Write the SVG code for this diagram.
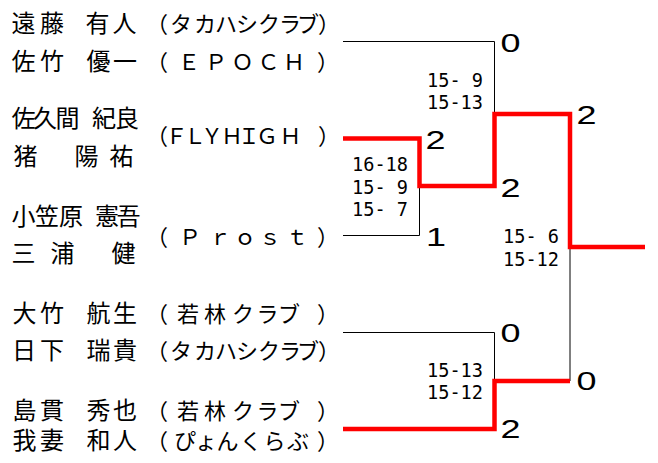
<svg xmlns="http://www.w3.org/2000/svg" width="658" height="463" viewBox="0 0 658 463">
<style>
.nm{font-family:"Noto Sans CJK JP","Noto Sans CJK SC",sans-serif;font-size:24px;fill:#000}
.cl{font-family:"Noto Sans CJK JP","Noto Sans CJK SC",sans-serif;font-size:22px;fill:#000}
.sc{font-family:"DejaVu Sans Mono",monospace;font-size:20px;fill:#000}
.wn{font-family:"Liberation Sans",Arial,sans-serif;font-size:25px;fill:#000}
.thin{fill:none;stroke:#000;stroke-width:1}
.win{fill:none;stroke:#ff0000;stroke-width:4.5;stroke-linejoin:miter;stroke-linecap:butt}
</style>
<rect width="658" height="463" fill="#fff"/>
<g id="team1">
<text class="nm" x="11.5 40 64 85.5 112.5" y="32">遠藤 有人</text>
<text class="cl" x="146 170 194 215 236 258 279 297 318" y="32">（タカハシクラブ）</text>
<text class="nm" x="11.5 40 64 86.5 113" y="70">佐竹 優一</text>
<text class="cl" x="146 178 205 231.5 257.5 283 317" y="70">（ＥＰＯＣＨ）</text>
</g>
<g id="team2">
<text class="nm" x="11.5 33 55.5 78 92 115" y="127">佐久間 紀良</text>
<text class="nm" x="13.5 40 74.5 109.5" y="165">猪　陽祐</text>
<text class="cl" x="146 165.5 184 201 221 238 256 279.5 318" y="144">（ＦＬＹＨＩＧＨ）</text>
</g>
<g id="team3">
<text class="nm" x="11.5 35 59 83 95 116.5" y="225">小笠原 憲吾</text>
<text class="nm" x="11.5 50.5 75 111.5" y="262">三浦　健</text>
<text class="cl" x="146 179 209 234 259 286 317" y="245">（Ｐｒｏｓｔ）</text>
</g>
<g id="team4">
<text class="nm" x="12.5 40 64 86.5 113" y="322">大竹 航生</text>
<text class="cl" x="146 177 204 232 256.5 278 317" y="322">（若林クラブ）</text>
<text class="nm" x="12 40 64 86.5 113" y="359">日下 瑞貴</text>
<text class="cl" x="146 170 194 215 236 258 279 297 318" y="359">（タカハシクラブ）</text>
</g>
<g id="team5">
<text class="nm" x="12.5 40 64 86.5 113" y="419">島貫 秀也</text>
<text class="cl" x="146 177 204 232 256.5 278 317" y="419">（若林クラブ）</text>
<text class="nm" x="12.5 40 64 86.5 113" y="449">我妻 和人</text>
<text class="cl" x="146 174 195 216.5 240 263.5 287 317" y="449">（ぴょんくらぶ）</text>
</g>
<g id="connectors">
<path class="thin" d="M343,41.5 H494.5 V114"/>
<path class="thin" d="M343,235.5 H419.5 V186"/>
<path class="thin" d="M343,332.5 H494.5 V381"/>
<path class="thin" d="M570,247 V381"/>
<path class="win" d="M343,138.5 H419.5 V186 H494.5 V114 H570 V247 H645"/>
<path class="win" d="M343,429 H494.5 V381 H570"/>
</g>
<g id="game-scores">
<text class="sc" x="427" y="87" textLength="56" lengthAdjust="spacingAndGlyphs">15- 9</text>
<text class="sc" x="427" y="109" textLength="56" lengthAdjust="spacingAndGlyphs">15-13</text>
<text class="sc" x="352" y="171" textLength="56" lengthAdjust="spacingAndGlyphs">16-18</text>
<text class="sc" x="352" y="194" textLength="56" lengthAdjust="spacingAndGlyphs">15- 9</text>
<text class="sc" x="352" y="216" textLength="56" lengthAdjust="spacingAndGlyphs">15- 7</text>
<text class="sc" x="503" y="243" textLength="56" lengthAdjust="spacingAndGlyphs">15- 6</text>
<text class="sc" x="503" y="266" textLength="56" lengthAdjust="spacingAndGlyphs">15-12</text>
<text class="sc" x="427" y="377" textLength="56" lengthAdjust="spacingAndGlyphs">15-13</text>
<text class="sc" x="427" y="399" textLength="56" lengthAdjust="spacingAndGlyphs">15-12</text>
</g>
<g id="match-scores">
<text class="wn" x="500.5" y="52" textLength="20" lengthAdjust="spacingAndGlyphs">0</text>
<text class="wn" x="425.5" y="149" textLength="20" lengthAdjust="spacingAndGlyphs">2</text>
<text class="wn" x="500.5" y="197" textLength="20" lengthAdjust="spacingAndGlyphs">2</text>
<text class="wn" x="426" y="246" textLength="20" lengthAdjust="spacingAndGlyphs">1</text>
<text class="wn" x="576.5" y="124" textLength="20" lengthAdjust="spacingAndGlyphs">2</text>
<text class="wn" x="500.5" y="342" textLength="20" lengthAdjust="spacingAndGlyphs">0</text>
<text class="wn" x="576.5" y="390" textLength="20" lengthAdjust="spacingAndGlyphs">0</text>
<text class="wn" x="500.5" y="438" textLength="20" lengthAdjust="spacingAndGlyphs">2</text>
</g>
</svg>
